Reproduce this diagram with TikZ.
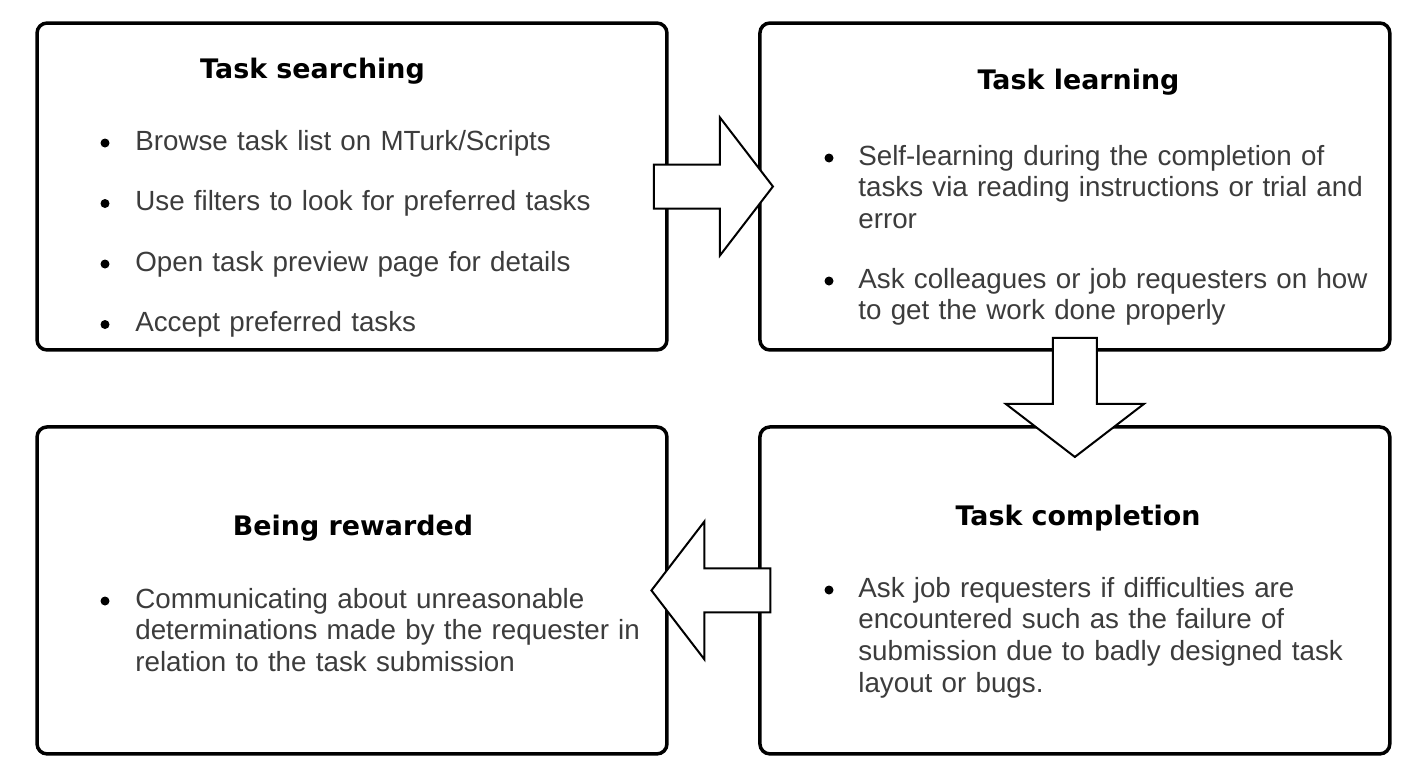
\documentclass[tikz,border=0pt]{standalone}
\usepackage{fontspec}
\setmainfont{Liberation Sans}
\newfontfamily\headfont{DejaVu Sans}
\usetikzlibrary{positioning,calc}
\definecolor{bodygray}{HTML}{3C3C3C}
\tikzstyle{stagebox} = [rectangle, rounded corners=0.2cm, 
minimum width=12.6cm, 
minimum height=6.54cm,
draw=black, 
line width=0.07cm]
\tikzstyle{stagetitle} = [anchor=base, inner sep=0pt, 
font=\headfont\bfseries\fontsize{15.3pt}{18pt}\selectfont]
\tikzstyle{bullettext} = [anchor=base west, inner sep=0pt, 
text width=10.6cm, 
align=left, 
text=bodygray, 
font=\fontsize{15.8pt}{18.1pt}\selectfont]
\tikzstyle{bulletdot} = [circle, fill=black, inner sep=0pt, minimum size=0.18cm]
\tikzstyle{blockarrow} = [draw=black, fill=white, line width=0.04cm]

\begin{document}
\begin{tikzpicture}[x=0.02cm, y=-0.02cm]
\useasboundingbox (0,0) rectangle (1422,778);

\node (search) [stagebox] at (352,186.5) {};
\node (learn) [stagebox, right=1.79cm of search] {};
\node (complete) [stagebox, below=1.47cm of learn] {};
\node (reward) [stagebox, left=1.79cm of complete] {};

\node (searchtitle) [stagetitle] at (312.5,78) {Task searching};
\node (s1) [bullettext] at (135,150) {Browse task list on MTurk/Scripts};
\node (s2) [bullettext] at (135,210.5) {Use filters to look for preferred tasks};
\node (s3) [bullettext] at (135,271) {Open task preview page for details};
\node (s4) [bullettext] at (135,331.5) {Accept preferred tasks};
\node (s1dot) [bulletdot] at (105,143) {};
\node (s2dot) [bulletdot] at (105,203.5) {};
\node (s3dot) [bulletdot] at (105,264) {};
\node (s4dot) [bulletdot] at (105,324.5) {};

\node (learntitle) [stagetitle] at (1078.5,89) {Task learning};
\node (l1) [bullettext] at (858,165) {Self-learning during the completion of\\tasks via reading instructions or trial and\\error};
\node (l2) [bullettext] at (858,288) {Ask colleagues or job requesters on how\\to get the work done properly};
\node (l1dot) [bulletdot] at (829,158) {};
\node (l2dot) [bulletdot] at (829,281) {};

\node (completetitle) [stagetitle] at (1078,525) {Task completion};
\node (c1) [bullettext] at (858,597) {Ask job requesters if difficulties are\\encountered such as the failure of\\submission due to badly designed task\\layout or bugs.};
\node (c1dot) [bulletdot] at (829,590) {};

\node (rewardtitle) [stagetitle] at (353,535) {Being rewarded};
\node (r1) [bullettext] at (135,608) {Communicating about unreasonable\\determinations made by the requester in\\relation to the task submission};
\node (r1dot) [bulletdot] at (105,601) {};

% block arrows between the stages
\coordinate (a1) at ($(search.east)!0.5!(learn.west)$);
\coordinate (a2) at ($(learn.south)!0.5!(complete.north)+(0,9)$);
\coordinate (a3) at ($(complete.west)!0.5!(reward.east)+(-2.5,0)$);
\draw [blockarrow, shift={(a1)}] (-59.5,-22) -- (6.5,-22) -- (6.5,-69) -- (59.5,0) -- (6.5,69) -- (6.5,22) -- (-59.5,22) -- cycle;
\draw [blockarrow, shift={(a2)}, rotate=-90] (-59.5,-22) -- (6.5,-22) -- (6.5,-69) -- (59.5,0) -- (6.5,69) -- (6.5,22) -- (-59.5,22) -- cycle;
\draw [blockarrow, shift={(a3)}, rotate=180] (-59.5,-22) -- (6.5,-22) -- (6.5,-69) -- (59.5,0) -- (6.5,69) -- (6.5,22) -- (-59.5,22) -- cycle;

\end{tikzpicture}
\end{document}
